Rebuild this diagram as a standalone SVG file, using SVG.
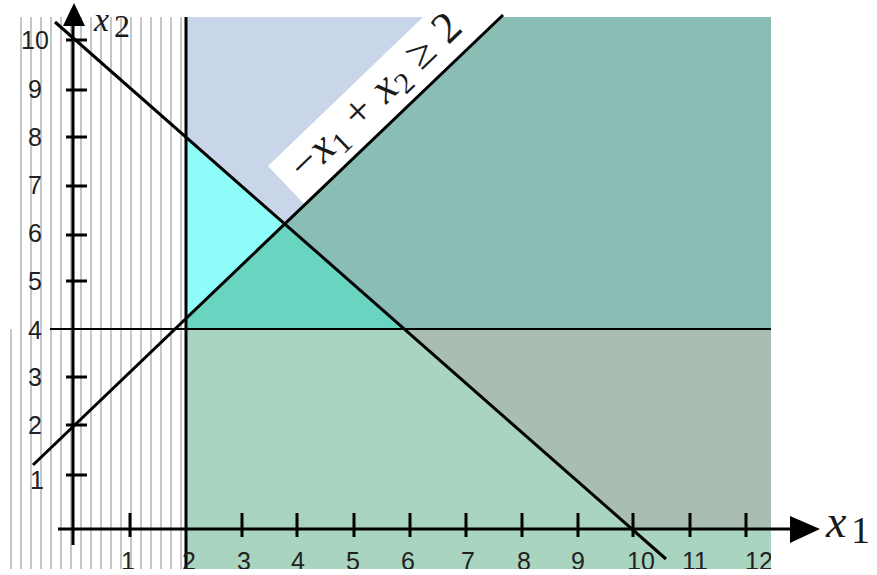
<svg xmlns="http://www.w3.org/2000/svg" width="877" height="575" viewBox="0 0 877 575">
<defs>
<style>
.num{font-family:"Liberation Sans",Arial,sans-serif;font-size:25px;fill:#222;text-anchor:middle}
.math{font-family:"Liberation Serif","Times New Roman",serif;fill:#1a1a1a}
.it{font-style:italic}
.ln{stroke:#000;fill:none;stroke-linecap:butt}
</style>
<pattern id="stripes" x="0" y="0" width="10" height="10" patternUnits="userSpaceOnUse">
<rect x="0" y="0" width="2" height="10" fill="#c6c6c6"/>
</pattern>
<clipPath id="plotclip"><rect x="0" y="0" width="771" height="569"/></clipPath>
</defs>
<rect width="877" height="575" fill="#fff"/>
<g id="regions">
<rect x="18" y="17" width="168" height="312" fill="url(#stripes)"/>
<rect x="8" y="329" width="178" height="240" fill="url(#stripes)"/>
<rect x="186" y="17" width="585" height="552" fill="#a8d4c0"/>
<polygon points="186,17 501,17 285,224 186,137" fill="#c9d6ea"/>
<polygon points="186,137 285,224 186,319" fill="#8efcf9"/>
<polygon points="186,319 285,224 404,329 186,329" fill="#69d4bf"/>
<polygon points="501,17 771,17 771,329 404,329 285,224" fill="#8abdb3"/>
<polygon points="404,329 771,329 771,529 632,529" fill="#a9beb1"/>
</g>
<g id="label-box">
<polygon points="305,205 268,166 471,-29 509,10" fill="#fff"/>
</g>
<g id="connectors">
<line class="ln" x1="50" y1="329" x2="771" y2="329" stroke-width="2"/>
<line class="ln" x1="186" y1="17" x2="186" y2="569" stroke-width="3"/>
<line class="ln" x1="55" y1="22" x2="666" y2="559" stroke-width="3"/>
<line class="ln" x1="33" y1="465" x2="503" y2="15" stroke-width="3"/>
</g>
<g id="axes">
<line class="ln" x1="73" y1="20" x2="73" y2="545" stroke-width="3"/>
<polygon points="74,3 63,26 85,26" fill="#000"/>
<line class="ln" x1="58" y1="529" x2="792" y2="529" stroke-width="3"/>
<polygon points="790,516 790,543 820,529" fill="#000"/>
<g id="ticks" class="ln" stroke-width="3">
<line x1="66" y1="40" x2="87" y2="40"/>
<line x1="66" y1="90" x2="87" y2="90"/>
<line x1="66" y1="137" x2="87" y2="137"/>
<line x1="66" y1="186" x2="87" y2="186"/>
<line x1="66" y1="235" x2="87" y2="235"/>
<line x1="66" y1="281" x2="87" y2="281"/>
<line x1="66" y1="377" x2="87" y2="377"/>
<line x1="66" y1="425" x2="87" y2="425"/>
<line x1="66" y1="475" x2="87" y2="475"/>
<line x1="130" y1="513" x2="130" y2="537"/>
<line x1="242" y1="513" x2="242" y2="537"/>
<line x1="297" y1="513" x2="297" y2="537"/>
<line x1="354" y1="513" x2="354" y2="537"/>
<line x1="410" y1="513" x2="410" y2="537"/>
<line x1="466" y1="513" x2="466" y2="537"/>
<line x1="522" y1="513" x2="522" y2="537"/>
<line x1="578" y1="513" x2="578" y2="537"/>
<line x1="633" y1="513" x2="633" y2="537"/>
<line x1="690" y1="513" x2="690" y2="537"/>
<line x1="746" y1="513" x2="746" y2="537"/>
</g>
</g>
<g id="tick-labels" clip-path="url(#plotclip)">
<text class="num" x="35" y="49" font-size="26">10</text>
<text class="num" x="35" y="98" font-size="26">9</text>
<text class="num" x="35" y="146" font-size="26">8</text>
<text class="num" x="35" y="194" font-size="26">7</text>
<text class="num" x="35" y="242" font-size="26">6</text>
<text class="num" x="35" y="290" font-size="26">5</text>
<text class="num" x="35" y="339" font-size="26">4</text>
<text class="num" x="35" y="386" font-size="26">3</text>
<text class="num" x="35" y="434" font-size="26">2</text>
<text class="num" x="37" y="489" font-size="26">1</text>
<text class="num" x="128" y="570">1</text>
<text class="num" x="189" y="570">2</text>
<text class="num" x="244" y="570">3</text>
<text class="num" x="298" y="570">4</text>
<text class="num" x="353" y="570">5</text>
<text class="num" x="408" y="570">6</text>
<text class="num" x="468" y="570">7</text>
<text class="num" x="524" y="570">8</text>
<text class="num" x="578" y="570">9</text>
<text class="num" x="641" y="570">10</text>
<text class="num" x="695" y="570">11</text>
<text class="num" x="759" y="570">12</text>
</g>
<g id="axis-labels">
<text class="math"><tspan class="it" x="826" y="537" font-size="46">x</tspan><tspan x="851" y="543" font-size="38">1</tspan></text>
<text class="math"><tspan class="it" x="94" y="31" font-size="34">x</tspan><tspan x="114" y="37" font-size="32">2</tspan></text>
</g>
<g id="constraint-label">
<text class="math" transform="translate(305,182) rotate(-43.7)" font-size="44" textLength="220" lengthAdjust="spacing">−<tspan class="it">x</tspan><tspan font-size="30" dy="7">1</tspan><tspan dy="-7"> + </tspan><tspan class="it">x</tspan><tspan font-size="30" dy="7">2</tspan><tspan dy="-7"> ≥ 2</tspan></text>
</g>
</svg>
